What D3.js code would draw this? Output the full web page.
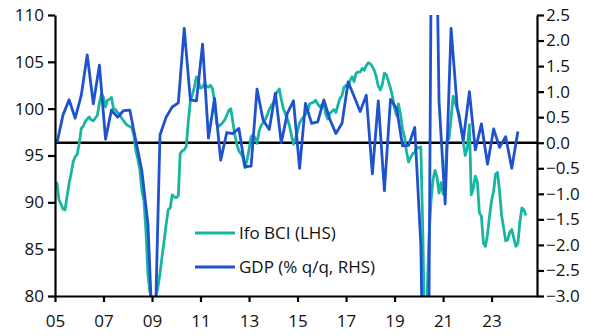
<!DOCTYPE html>
<html>
<head>
<meta charset="utf-8">
<script src="https://cdn.jsdelivr.net/npm/d3@7"></script>
<style>
  body { margin: 0; background: #fff; }
  svg text { font-family: "Open Sans", sans-serif; font-size: 17px; fill: #111; }
</style>
</head>
<body>
<svg class="svg" width="593" height="336"></svg>
<script>
// Ifo business climate (2015=100), monthly from Jan 2005 to Jun 2024
var ifoStart = [2005, 0];
var ifoValues = [
  92.2, 92.0, 90.3, 89.8, 89.3, 89.2, 90.6, 92.0, 93.1, 94.3, 94.9, 95.1,
  96.3, 97.9, 98.1, 98.6, 98.9, 99.1, 98.8, 98.7, 99.0, 99.3, 100.6, 101.6,
  101.2, 100.2, 100.9, 101.0, 101.2, 100.0, 99.9, 99.6, 99.4, 99.0, 98.7, 98.4,
  98.2, 98.1, 98.0, 97.2, 95.6, 94.6, 93.5, 91.3, 90.2, 87.0, 82.2, 80.4,
  79.7, 79.5, 80.0, 81.0, 82.4, 84.2, 85.8, 87.6, 89.2, 89.4, 90.8, 90.6,
  90.5, 90.7, 95.2, 95.5, 95.6, 96.0, 98.6, 100.8, 101.5, 102.3, 103.4, 102.9,
  102.2, 102.3, 102.7, 102.4, 102.3, 102.5, 102.1, 100.8, 98.4, 98.1, 98.3, 98.5,
  98.8, 99.3, 99.8, 100.0, 98.6, 97.2, 96.2, 95.5, 95.2, 94.8, 93.7, 94.5,
  95.6, 97.0, 97.2, 96.9, 96.3, 97.6, 98.2, 98.5, 98.8, 99.3, 99.9, 100.3,
  100.6, 101.4, 101.8, 102.1, 101.0, 100.0, 99.5, 98.9, 98.2, 97.2, 96.2, 96.8,
  97.6, 98.5, 98.8, 99.1, 99.4, 99.7, 100.5, 100.6, 100.7, 100.9, 100.5, 100.2,
  100.4, 100.6, 99.4, 98.9, 99.5, 99.7, 99.9, 99.6, 100.4, 101.1, 101.4, 102.3,
  102.5, 102.3, 103.0, 103.4, 102.9, 103.8, 103.9, 103.9, 104.3, 104.1, 104.6, 104.9,
  104.8, 104.5, 104.1, 103.4, 102.4, 102.0, 102.6, 103.8, 103.6, 102.9, 102.2, 101.3,
  100.0, 99.3, 100.5, 99.4, 97.8, 97.0, 95.4, 94.3, 94.8, 95.2, 95.3, 95.9,
  95.8, 95.9, 87.0, 74.3, 79.0, 86.0, 90.0, 92.4, 93.4, 92.7, 91.0, 92.1,
  90.9, 92.8, 96.6, 96.8, 99.0, 101.3, 100.6, 100.0, 99.3, 97.9, 96.5, 95.0,
  95.8, 98.3, 90.8, 91.5, 92.8, 92.2, 88.9, 88.5, 85.6, 85.3, 86.6, 88.5,
  90.2, 91.2, 93.0, 93.2, 91.2, 88.6, 87.3, 85.9, 86.0, 86.8, 87.1, 86.2,
  85.3, 85.6, 87.8, 89.4, 89.2, 88.6
];

// GDP (% q/q), quarterly from Q1 2005 to Q1 2024
var gdpStart = [2005, 1];
var gdpValues = [
  0.0, 0.54, 0.84, 0.48,
  0.93, 1.72, 0.76, 1.52,
  0.07, 0.64, 0.50, 0.63,
  0.64, 0.05, -0.55, -1.6,
  -4.5, 0.15, 0.5, 0.7,
  0.78, 2.24, 0.84, 0.82,
  1.93, 0.09, 0.87, -0.34,
  0.2, 0.18, 0.28, -0.47,
  -0.46, 1.05, 0.44, 0.26,
  0.97, 0.0, 0.58, 0.82,
  -0.5, 0.77, 0.38, 0.41,
  0.84, 0.46, 0.18, 0.38,
  1.19, 0.91, 0.61, 0.93,
  -0.61, 0.82, -0.94, 0.85,
  0.67, -0.06, -0.05, 0.3,
  -2.0, -9.7, 8.7, 0.8,
  -1.2, 2.24, 0.7, 0.05,
  1.0, -0.14, 0.37, -0.42,
  0.27, -0.09, 0.12, -0.5,
  0.22
];

var xTickYears = [2005, 2007, 2009, 2011, 2013, 2015, 2017, 2019, 2021, 2023];
var leftTicks = [80, 85, 90, 95, 100, 105, 110];
var rightTicks = [-3.0, -2.5, -2.0, -1.5, -1.0, -0.5, 0.0, 0.5, 1.0, 1.5, 2.0, 2.5];
var legendLabels = ['Ifo BCI (LHS)', 'GDP (% q/q, RHS)'];
var colors = ['#17b5a2', '#1f52cc'];

var ifoData = ifoValues.map((v, i) => ({ date: new Date(ifoStart[0], ifoStart[1] + i, 1), value: v }));
// quarterly points placed in the middle month of each quarter
var gdpData = gdpValues.map((v, i) => ({ date: new Date(gdpStart[0], (gdpStart[1] - 1 + i) * 3 + 1, 1), value: v }));

var svg = d3.select('.svg');
var margin = { top: 15, right: 56, bottom: 40, left: 55 };
var width = 593 - margin.left - margin.right;
var height = 336 - margin.top - margin.bottom;

var g = svg.append('g').attr('transform', 'translate(' + margin.left + ',' + margin.top + ')');

var x = d3.scaleTime()
  .domain([new Date(2005, 0, 1), new Date(2024, 10, 15)])
  .range([0, width]);
var yLeft = d3.scaleLinear().domain([80, 110]).range([height, 0]);
var yRight = d3.scaleLinear().domain([-3, 2.5]).range([height, 0]);

g.append('clipPath').attr('id', 'plot-clip')
  .append('rect').attr('width', width).attr('height', height);

// zero line of the right axis
g.append('line')
  .attr('x1', 0).attr('x2', width)
  .attr('y1', yRight(0)).attr('y2', yRight(0))
  .attr('stroke', '#000').attr('stroke-width', 2.5);

var lines = g.append('g').attr('clip-path', 'url(#plot-clip)');

lines.append('path')
  .datum(ifoData)
  .attr('fill', 'none')
  .attr('stroke', colors[0])
  .attr('stroke-width', 2.8)
  .attr('stroke-linejoin', 'round')
  .attr('d', d3.line().x(d => x(d.date)).y(d => yLeft(d.value)));

lines.append('path')
  .datum(gdpData)
  .attr('fill', 'none')
  .attr('stroke', colors[1])
  .attr('stroke-width', 2.8)
  .attr('stroke-linejoin', 'round')
  .attr('d', d3.line().x(d => x(d.date)).y(d => yRight(d.value)));

// axes
var xAxis = d3.axisBottom(x)
  .tickValues(xTickYears.map(y => new Date(y, 0, 1)))
  .tickFormat(d3.timeFormat('%y'))
  .tickSize(6).tickSizeOuter(0).tickPadding(13);

var leftAxis = d3.axisLeft(yLeft)
  .tickValues(leftTicks).tickSize(7).tickSizeOuter(0).tickPadding(4);

var rightAxis = d3.axisRight(yRight)
  .tickValues(rightTicks).tickFormat(d3.format('.1f'))
  .tickSize(7).tickSizeOuter(0).tickPadding(2);

function styleAxis(sel) {
  sel.selectAll('path, line').attr('stroke', '#000').attr('stroke-width', 2.2);
  sel.selectAll('text').attr('font-size', null).attr('font-family', null).attr('fill', '#111');
}

g.append('g').attr('transform', 'translate(0,' + height + ')').call(xAxis).call(styleAxis);
g.append('g').call(leftAxis).call(styleAxis);
g.append('g').attr('transform', 'translate(' + width + ',0)').call(rightAxis).call(styleAxis);

// legend
var legend = g.append('g').attr('transform', 'translate(140,218)');
legendLabels.forEach(function (label, i) {
  var row = legend.append('g').attr('transform', 'translate(0,' + (i * 34) + ')');
  row.append('line')
    .attr('x1', 0).attr('x2', 40)
    .attr('stroke', colors[i]).attr('stroke-width', 3);
  row.append('text')
    .attr('x', 44).attr('dy', '0.35em')
    .text(label);
});
</script>
</body>
</html>
